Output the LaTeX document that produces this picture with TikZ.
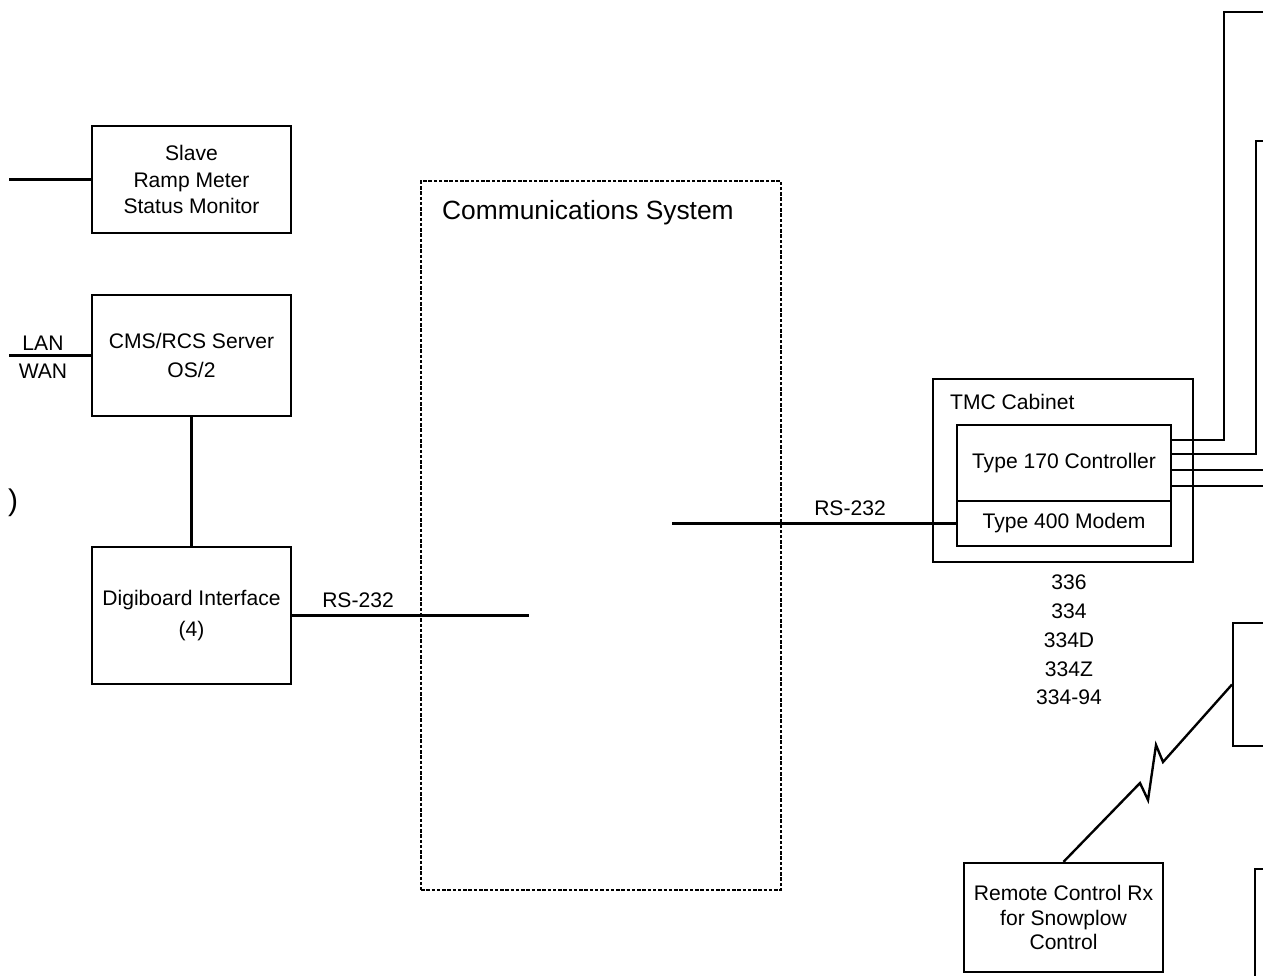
\documentclass[tikz,border=0pt]{standalone}
\usepackage{fontspec}
\setmainfont{Liberation Sans}
\usetikzlibrary{calc}

\begin{document}
\begin{tikzpicture}[
  x  = {(0.02cm, 0cm)},
  y  = {(0cm, -0.02cm)},
  line join=miter,
  font=\fontsize{12}{16}\selectfont,
  box/.style={draw, line width=1.35pt, align=center, inner sep=0pt},
  wire/.style={line width=1.35pt},
  tag/.style={inner sep=1pt}
]
  \def\bw{3.98cm}
  \clip (0,0) rectangle (1263,975);

  % left side boxes
  \node[box, minimum width=\bw, minimum height=2.14cm,
        font=\fontsize{12}{15.3}\selectfont] (slave) at (191.5,179.5)
        {Slave\\Ramp Meter\\Status Monitor};
  \node[box, minimum width=\bw, minimum height=2.42cm] (cms) at (191.5,355.5)
        {CMS/RCS Server\\OS/2};
  \node[box, minimum width=\bw, minimum height=2.74cm,
        font=\fontsize{12}{18}\selectfont] (digi) at (191.5,615.5)
        {Digiboard Interface\\(4)};

  % communications system
  \node[draw, dash pattern=on 2pt off 1pt, line width=1.2pt,
        minimum width=7.2cm, minimum height=14.18cm] (comm) at (601,535.5) {};
  \node[anchor=west, font=\fontsize{15}{18}\selectfont] (commlbl) at (436,213)
        {Communications System};

  % TMC cabinet
  \node[box, minimum width=5.2cm, minimum height=3.66cm] (tmc) at (1063,470.5) {};
  \node[anchor=west] (tmclbl) at (944,402) {TMC Cabinet};
  \node[box, minimum width=4.28cm, minimum height=1.52cm] (ctrl) at (1064,463)
        {Type 170 Controller};
  \node[box, minimum width=4.28cm, minimum height=0.9cm] (modem) at (1064,523.5)
        {Type 400 Modem};
  \node[align=center, font=\fontsize{12}{16.4}\selectfont] (models) at (1069,640)
        {336\\334\\334D\\334Z\\334-94};

  % boxes cut off at the edge
  \node[box, anchor=west, minimum width=2cm, minimum height=2.46cm] (rx) at (1232,684.5) {};
  \node[box, anchor=north west, minimum width=2cm, minimum height=3cm] (plowR) at (1254,868) {};
  \node[box, minimum width=\bw, minimum height=2.18cm,
        font=\fontsize{12}{13.8}\selectfont] (snow) at (1063.5,917.5)
        {Remote Control Rx\\for Snowplow\\Control};
  \node[font=\fontsize{17}{20}\selectfont] (paren) at (13,503) {)};

  % links
  \draw[wire] (slave.west) -- ++(-82,0) coordinate (slaveEnd);
  \draw[wire] (cms.west) -- ++(-82,0) coordinate (lanEnd);
  \node[tag] (lan) at (43,343) {LAN};
  \node[tag] (wan) at (43,371) {WAN};
  \draw[wire] (cms.south) -- (digi.north);
  \draw[wire] (digi.east) -- ++(237,0) coordinate (commL);
  \node[tag] (rsL) at (358,600) {RS-232};
  \draw[wire] (modem.west) -- ++(-284,0) coordinate (commR);
  \node[tag] (rsR) at (850,508) {RS-232};

  % controller outputs
  \coordinate (o1) at (1224,12);
  \coordinate (o2) at (1256,141);
  \draw[wire] ($(ctrl.east)+(0,-23)$) -| (o1) -- ++(60,0);
  \draw[wire] ($(ctrl.east)+(0,-9)$) -| (o2) -- ++(30,0);
  \draw[wire] ($(ctrl.east)+(0,7)$) -- ++(120,0);
  \draw[wire] ($(ctrl.east)+(0,23)$) -- ++(120,0);

  % radio link
  \draw[wire] (rx.west) -- (1163,762) -- (1156,745) -- (1148,800)
              -- (1140,783) -- (snow.north);
\end{tikzpicture}
\end{document}
